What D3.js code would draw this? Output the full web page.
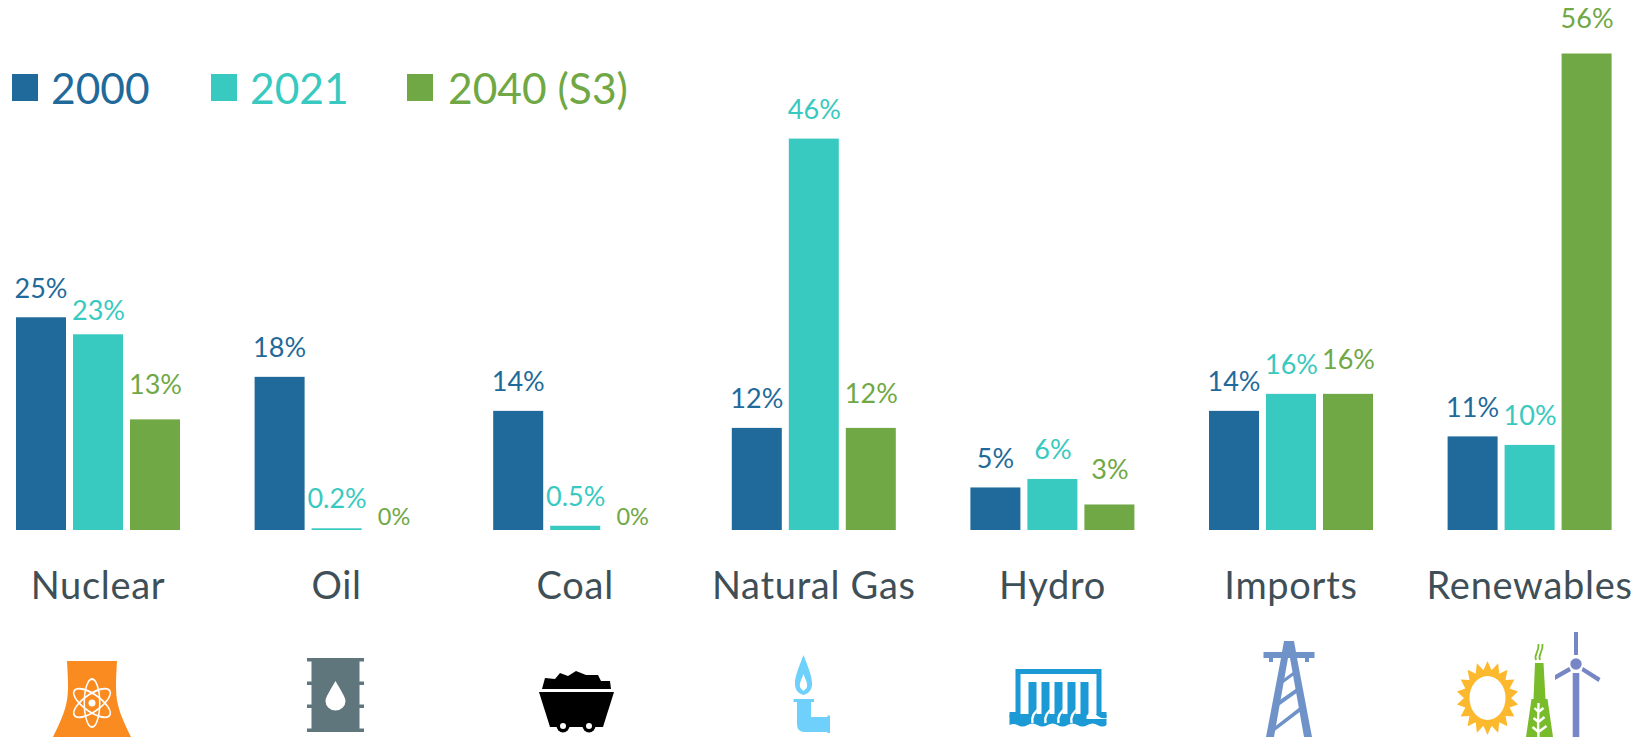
<!DOCTYPE html>
<html><head><meta charset="utf-8">
<script src="https://cdn.jsdelivr.net/npm/d3@7/dist/d3.min.js"></script>
<style>html,body{margin:0;padding:0;background:#fff;overflow:hidden}svg{display:block}text{font-family:Lato,"Open Sans",sans-serif}</style>
</head><body><svg id="c" width="1650" height="737"></svg>
<script>
const categories=["Nuclear","Oil","Coal","Natural Gas","Hydro","Imports","Renewables"];
const seriesNames=["2000","2021","2040 (S3)"];
const seriesColors=["#1F6A9A","#38C9C0","#70A845"];
const v2000=[25,18,14,12,5,14,11];
const v2021=[23,0.2,0.5,46,6,16,10];
const v2040=[13,0,0,12,3,16,56];
const labels2000=["25%","18%","14%","12%","5%","14%","11%"];
const labels2021=["23%","0.2%","0.5%","46%","6%","16%","10%"];
const labels2040=["13%","0%","0%","12%","3%","16%","56%"];
const values=[v2000,v2021,v2040], labels=[labels2000,labels2021,labels2040];

const svg=d3.select("#c");
const x0=d3.scaleBand().domain(categories).range([16,16+7*238.6]).paddingInner(0).paddingOuter(0).align(0);
const x1=d3.scaleBand().domain(d3.range(3)).range([0,164]).paddingInner(7/57);
const y=d3.scaleLinear().domain([0,56]).range([530,53.5]);

function gap(s,v){
  if(v===0) return 5.5;
  if(v===56) return 26;
  if(v===23) return 14.5;
  return s===2?25:(s===1?20:19.5);
}
const g=svg.selectAll("g.grp").data(categories).join("g").attr("class","grp").attr("transform",c=>`translate(${x0(c)},0)`);
values.forEach((vals,s)=>{
  g.append("rect").attr("x",x1(s)).attr("width",x1.bandwidth())
   .attr("y",(c,i)=>y(vals[i])).attr("height",(c,i)=>y(0)-y(vals[i])).attr("fill",seriesColors[s]);
  g.append("text").attr("x",x1(s)+x1.bandwidth()/2+(s?0.5:0)).attr("y",(c,i)=>y(vals[i])-gap(s,vals[i]))
   .attr("text-anchor","middle").attr("font-size",(c,i)=>vals[i]===0?23.5:27).attr("fill",seriesColors[s])
   .text((c,i)=>labels[s][i]);
});
g.append("text").attr("x",82).attr("y",599).attr("text-anchor","middle").attr("font-size",38).attr("letter-spacing",0.7)
 .attr("fill","#3F4F57").text(c=>c);

// legend
const legendX=[12,211,407], legendTextX=[51,250,448];
seriesNames.forEach((n,i)=>{
  svg.append("rect").attr("x",legendX[i]).attr("y",74).attr("width",26).attr("height",27).attr("fill",seriesColors[i]);
  svg.append("text").attr("x",legendTextX[i]).attr("y",104).attr("font-size",42.5).attr("fill",seriesColors[i]).text(n);
});

// icons
const ic=svg.append("g");
// nuclear tower
const nuc=ic.append("g").attr("transform","translate(92,703)");
nuc.append("path").attr("fill","#F98B20").attr("d","M-25,-42 H25 C24,-24 23,-10 26,2 C29,14 35,26 40,36 H-40 C-35,26 -29,14 -26,2 C-23,-10 -24,-24 -25,-42Z");
const atom=nuc.append("g").attr("transform","scale(0.86,1)");
[0,60,120].forEach(a=>atom.append("ellipse").attr("rx",9).attr("ry",24).attr("transform",`rotate(${a})`).attr("fill","none").attr("stroke","#fff").attr("stroke-width",1.8));
nuc.append("circle").attr("r",3.5).attr("fill","#fff");
// oil barrel
const oil=ic.append("g").attr("transform","translate(335.5,695)").attr("fill","#60767D");
oil.append("rect").attr("x",-24).attr("y",-37).attr("width",48).attr("height",74);
[-37,-13.5,9.5,33.5].forEach(t=>oil.append("rect").attr("x",-28.5).attr("y",t).attr("width",57).attr("height",3.5));
oil.append("path").attr("fill","#fff").attr("d","M0,-14 C5,-5 10,2 10,6 A10,9.5 0 0 1 -10,6 C-10,2 -5,-5 0,-14Z");
// coal
const coal=ic.append("g").attr("transform","translate(576,700)");
coal.append("path").attr("fill","#000").attr("d","M-34,-11 L-31,-22 L-21,-21 L-16,-27 L-8,-24 L0,-29 L10,-25 L22,-25 L25,-19 L34,-19 L35,-11Z");
coal.append("path").attr("fill","#000").attr("d","M-37,-8 H38 L27,27 H-26Z");
[-13,13].forEach(cx=>{
  coal.append("circle").attr("cx",cx).attr("cy",26).attr("r",6.5).attr("fill","#000");
  coal.append("circle").attr("cx",cx).attr("cy",26).attr("r",3).attr("fill","#fff");
});
// gas
const gas=ic.append("g").attr("transform","translate(803.5,700)");
gas.append("path").attr("fill","#6FD0FB").attr("fill-rule","evenodd").attr("d","M0,-45 C4,-34 9,-24 8.5,-15 C8,-9 4,-6 0,-5 C-4,-6 -8,-9 -8.5,-15 C-9,-24 -4,-34 0,-45Z M0,-26 C-2,-20 -5,-16 -3,-12 L0,-9 L3,-12 C5,-16 2,-20 0,-26Z");
gas.append("path").attr("fill","#6FD0FB").attr("d","M-10,-1 H10.5 V2 H7.5 V17 H24 V15.5 H26.5 V33 H24 V32 H1 Q-6.5,32 -6.5,24 V2 H-10Z");
// hydro
const hyd=ic.append("g").attr("transform","translate(1058.5,700)").attr("fill","#1B9AD6");
hyd.append("path").attr("fill-rule","evenodd").attr("d","M-43,-31 H43 V12 H48 V17 H-49 V12 H-43Z M-38,-26 V14 H38 V-26Z");
[-26,-13,0,13,26].forEach(dx=>hyd.append("rect").attr("x",dx-4).attr("y",-18).attr("width",8).attr("height",34));
hyd.append("path").attr("d","M-49,15 H48 V25 Q44,28 39,25 Q34,22 29,25 Q24,28 19,25 Q14,22 9,25 Q4,28 -1,25 Q-6,22 -11,25 Q-16,28 -21,25 Q-26,22 -31,25 Q-36,28 -41,25 Q-45,23 -49,25Z");
hyd.selectAll("path.sw").data([-24,-11,2,15]).join("path").attr("class","sw").attr("fill","none").attr("stroke","#fff").attr("stroke-width",2.5)
 .attr("d",d=>`M${d+6},8 C${d-1},12 ${d-3},18 ${d-2},23`);
hyd.append("path").attr("fill","#fff").attr("d","M28,16 Q33,9 37,14 Q41,19 48,18 V19 H28Z");
// imports
const imp=ic.append("g").attr("transform","translate(1289,690)").attr("fill","#6F93C9");
imp.append("path").attr("d","M-5,-49 H5 L7,-38 H25.5 V-32 H-25.5 V-38 H-7Z");
imp.append("path").attr("d","M-20,-32 H-16 V-28 H-20Z M16,-32 H20 V-28 H16Z");
imp.append("path").attr("d","M-8,-32 H-1 L-15,47 H-23Z M8,-32 H1 L15,47 H23Z");
imp.append("path").attr("d","M-7,-10 L4,-18 L5,-15 L-7,-6Z M-12,12 L8,-2 L9,2 L-12,17Z M-16,38 L11,17 L12,21 L-17,43Z");
// renewables
const sun=ic.append("g").attr("transform","translate(1487.5,698)");
const pts=[];
d3.range(36).forEach(i=>{const a=i*Math.PI/18, k=i%2?0.76:1;pts.push([Math.sin(a)*31*k,-Math.cos(a)*37*k]);});
sun.append("path").attr("fill","#FDB92E").attr("d",d3.line()(pts)+"Z");
sun.append("ellipse").attr("rx",18).attr("ry",22).attr("fill","#fff");
const pl=ic.append("g").attr("transform","translate(1539.5,700)");
pl.append("path").attr("fill","#78BC2B").attr("d","M-4.5,-37 H4 L6,-1 H8 L13.5,37 H-13.5 L-8,-1 H-6Z");
pl.append("path").attr("fill","none").attr("stroke","#78BC2B").attr("stroke-width",1.8).attr("d","M-3.5,-40 C-6,-46 0,-48 -1,-56 M0.5,-40 C-2,-46 4,-48 3,-56");
pl.append("path").attr("fill","none").attr("stroke","#fff").attr("stroke-width",2.4).attr("d","M-1,37 C-2,22 -1,12 -1,3 M-1,32 L7,26 M-1,32 L-7,27 M-1,22 L5,17 M-1,22 L-6,18 M-1,12 L4,8 M-1,12 L-5,8");
const tb=ic.append("g").attr("transform","translate(1576,664)").attr("fill","#7787C6");
tb.append("rect").attr("x",-3.3).attr("y",9).attr("width",6.6).attr("height",64);
tb.append("rect").attr("x",-2).attr("y",-32).attr("width",4).attr("height",23);
tb.append("circle").attr("r",5.7);
tb.append("path").attr("d","M7,3 L24.5,14 L22.5,18 L5.5,7Z M-7,3 L-21,11 V16 L-5,7Z");
</script></body></html>
